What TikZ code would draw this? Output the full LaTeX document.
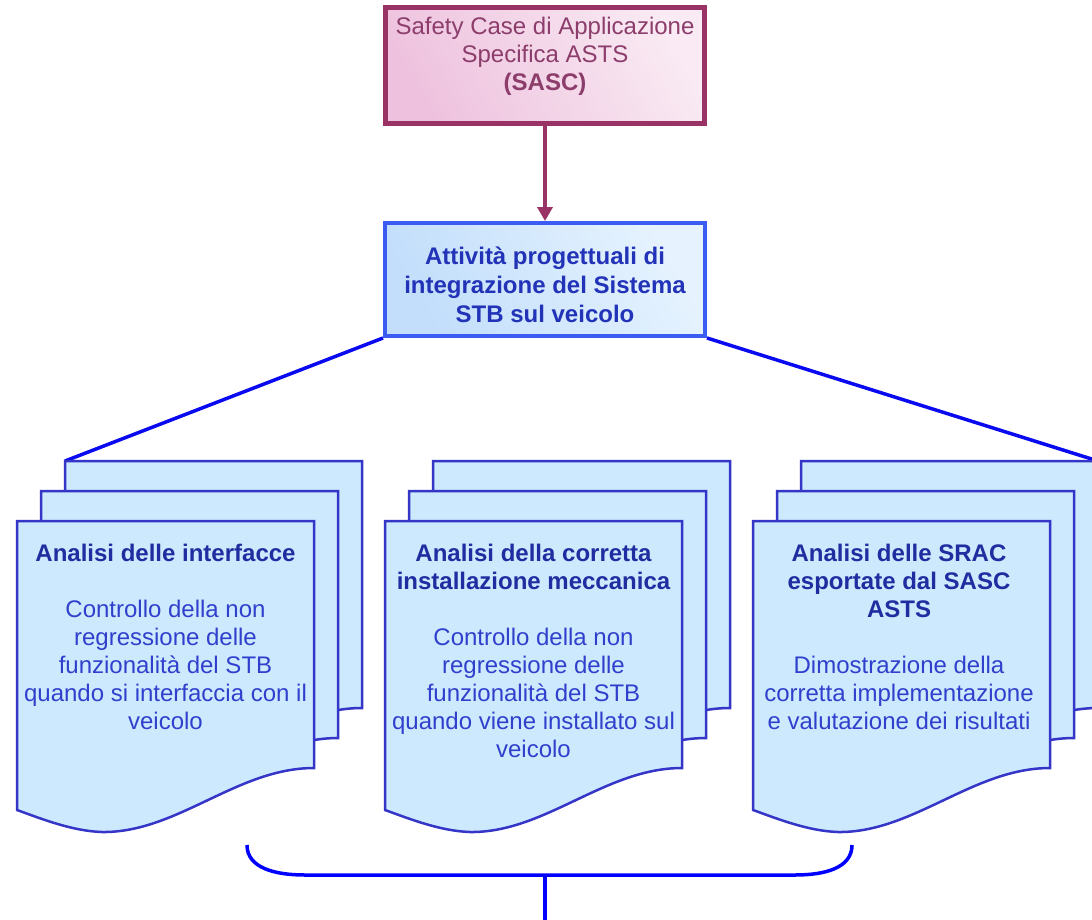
\documentclass[tikz,border=0pt]{standalone}
\usepackage{fontspec}
\setmainfont{Liberation Sans}
\usetikzlibrary{arrows.meta}
\definecolor{sascline}{HTML}{993366}
\definecolor{sasctext}{HTML}{8C3D6B}
\definecolor{sascfillA}{HTML}{EEC2DE}
\definecolor{sascfillB}{HTML}{F9EAF3}
\definecolor{actline}{HTML}{3A5CF2}
\definecolor{actfillA}{HTML}{C2DEFB}
\definecolor{actfillB}{HTML}{E6F3FE}
\definecolor{acttext}{HTML}{2233B8}
\definecolor{pageline}{HTML}{3535C8}
\definecolor{pagefill}{HTML}{CCE9FE}
\definecolor{titletext}{HTML}{1F2DA0}
\definecolor{bodytext}{HTML}{3040CC}
\definecolor{connblue}{HTML}{0A0AF0}
\tikzset{
  sascbox/.style={draw=sascline, line width=5pt, shading=axis, left color=sascfillA, right color=sascfillB, shading angle=120, minimum width=319pt, minimum height=116pt, inner sep=0pt},
  actbox/.style={draw=actline, line width=4pt, shading=axis, left color=actfillA, right color=actfillB, shading angle=120, minimum width=320pt, minimum height=113pt, inner sep=0pt},
  bigtext/.style={font=\fontsize{24}{28}\selectfont, align=center, inner sep=0pt},
  pagestyle/.style={draw=pageline, fill=pagefill, line width=2.5pt, line join=miter},
  conn/.style={draw=connblue, line width=3.5pt},
  docpage/.pic={\path[pagestyle] (0,0) -- (297,0) -- (297,247) .. controls (220,247) and (160,312) .. (85,311) .. controls (55,310) and (25,298) .. (0,289) -- cycle;}
}
\begin{document}
\begin{tikzpicture}[x=1pt,y=-1pt]
\useasboundingbox[fill=white] (0,0) rectangle (1092,919);
% top box
\node[sascbox] (sasc) at (545,65.5) {};
\node[bigtext, text=sasctext] (sasct) at (545,56) {Safety Case di Applicazione\\Specifica ASTS\\\textbf{(SASC)}};
% second box
\node[actbox] (act) at (545,279.5) {};
\node[bigtext, text=acttext, font=\fontsize{24}{29}\selectfont\bfseries] (actt) at (545,285) {Attività progettuali di\\integrazione del Sistema\\STB sul veicolo};
\draw[sascline, line width=4pt, -{Triangle[length=14pt,width=15pt]}] (sasc.south) -- (act.north);
% corner coordinates
\coordinate (lefttop) at (65,461);
\coordinate (righttop) at (1098,461);
\draw[conn] (act.south west) -- (lefttop);
\draw[conn] (act.south east) -- (righttop);
% left stack
\pic at (65,461) {docpage};
\pic at (41,491) {docpage};
\pic at (17,521) {docpage};
\node[bigtext, text=bodytext] (leftt) at (165.5,637) {\textcolor{titletext}{\bfseries Analisi delle interfacce}\\[28pt]Controllo della non\\regressione delle\\funzionalità del STB\\quando si interfaccia con il\\veicolo};
% middle stack
\pic at (433,461) {docpage};
\pic at (409,491) {docpage};
\pic at (385,521) {docpage};
\node[bigtext, text=bodytext] (midt) at (533.5,651) {\textcolor{titletext}{\bfseries Analisi della corretta}\\\textcolor{titletext}{\bfseries installazione meccanica}\\[28pt]Controllo della non\\regressione delle\\funzionalità del STB\\quando viene installato sul\\veicolo};
% right stack
\pic at (801,461) {docpage};
\pic at (777,491) {docpage};
\pic at (753,521) {docpage};
\node[bigtext, text=bodytext] (rightt) at (899,637) {\textcolor{titletext}{\bfseries Analisi delle SRAC}\\\textcolor{titletext}{\bfseries esportate dal SASC}\\\textcolor{titletext}{\bfseries ASTS}\\[28pt]Dimostrazione della\\corretta implementazione\\e valutazione dei risultati};
% brace
\coordinate (bl) at (247,845);
\coordinate (br) at (852,845);
\coordinate (bm) at (545,875);
\coordinate (bout) at (545,925);
\draw[draw=blue, line width=3.5pt] (bl) .. controls (247,868) and (275,875) .. (305,875) -- (795,875) .. controls (825,875) and (852,868) .. (br);
\draw[draw=blue, line width=3.5pt] (bm) -- (bout);
\end{tikzpicture}
\end{document}
